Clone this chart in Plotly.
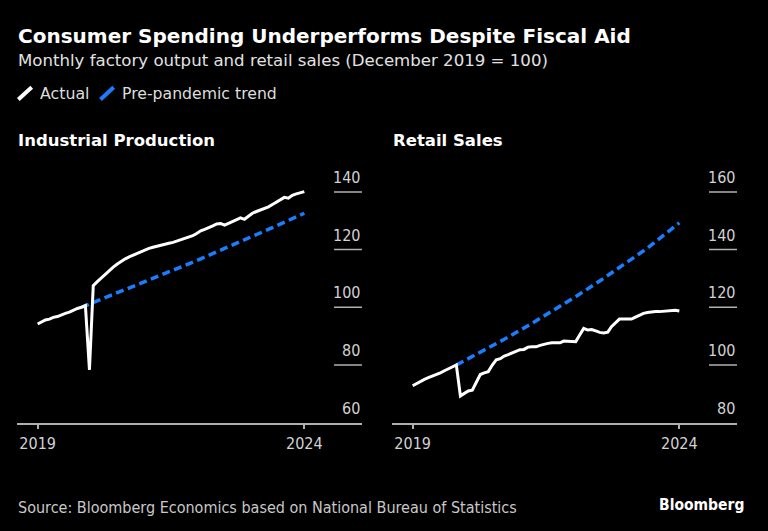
import plotly.graph_objects as go
import pandas as pd

# ---------------- data ----------------
months = pd.date_range("2019-01-01", periods=68, freq="MS")

ip_actual = [94.2, 94.8, 95.6, 95.9, 96.5, 96.8, 97.4, 97.9, 98.3, 99.0, 99.6, 100.0,
             100.6, 78.3, 107.5, 108.9, 110.2, 111.6, 112.8, 113.9, 115.0, 116.0, 116.8, 117.5,
             118.1, 118.8, 119.4, 119.9, 120.4, 120.8, 121.2, 121.5, 121.9, 122.2, 122.5, 123.0,
             123.5, 123.9, 124.4, 124.8, 125.6, 126.5, 127.0, 127.5, 128.2, 128.9, 129.0, 128.5,
             129.2, 129.8, 130.3, 131.0, 130.5, 131.6, 132.6, 133.2, 133.7, 134.2, 134.8, 135.6,
             136.5, 137.3, 138.1, 137.8, 138.8, 139.3, 139.7, 140.1]

retail_actual = [92.8, 93.6, 94.4, 95.0, 95.6, 96.1, 96.7, 97.3, 98.0, 98.7, 99.4, 100.0,
                 89.3, 90.3, 91.0, 91.3, 94.0, 96.7, 97.3, 97.7, 100.0, 101.8, 102.2, 103.1,
                 103.6, 104.2, 104.9, 105.3, 105.4, 106.2, 106.3, 106.3, 106.8, 107.2, 107.5, 107.7,
                 107.6, 107.7, 108.3, 108.2, 108.1, 108.1, 110.4, 112.7, 112.1, 112.3, 111.8, 111.3,
                 111.1, 111.4, 113.3, 114.8, 115.9, 115.9, 115.8, 115.9, 116.6, 117.3, 117.9, 118.2,
                 118.4, 118.5, 118.5, 118.6, 118.7, 118.9, 119.0, 118.7]

trend_dates = ["2019-12-01", "2020-06-01", "2020-12-01", "2021-06-01", "2021-12-01",
               "2022-06-01", "2022-12-01", "2023-06-01", "2023-12-01", "2024-08-01"]
ip_trend = [100.0, 103.3, 106.7, 110.0, 113.4, 116.8, 120.3, 123.9, 127.6, 132.6]
retail_trend = [100.0, 104.4, 108.9, 113.6, 118.6, 123.7, 129.1, 134.7, 140.5, 149.3]

ip_yticks = [60, 80, 100, 120, 140]
retail_yticks = [80, 100, 120, 140, 160]
x_ticktext = ["2019", "2024"]

# ---------------- style ----------------
W, H = 768, 531
BG = "#000000"
WHITE = "#ffffff"
BLUE = "#1a7dff"
AXIS = "#b0b0b0"
TICKC = "#d2d2d2"
FONT = "DejaVu Sans"
CFONT = "DejaVu Sans Condensed, DejaVu Sans"

def px(x):
    return x / W

def py(y):
    return 1 - y / H

x_range = ["2018-07-27", "2025-10-16"]
ydom = [py(422.7), py(168.8)]
dom_left = [px(17), px(362)]
dom_right = [px(392), px(737)]
ip_range = [60, 148]
retail_range = [80, 168]

fig = go.Figure()

for xa, ya, act, tr in [("x", "y", ip_actual, ip_trend), ("x2", "y2", retail_actual, retail_trend)]:
    fig.add_trace(go.Scatter(x=trend_dates, y=tr, mode="lines", xaxis=xa, yaxis=ya,
                             line=dict(color=BLUE, width=3.5, dash="8px,4.5px"),
                             showlegend=False, hoverinfo="skip"))
    fig.add_trace(go.Scatter(x=months, y=act, mode="lines", xaxis=xa, yaxis=ya,
                             line=dict(color=WHITE, width=3),
                             showlegend=False, hoverinfo="skip"))

xaxis_common = dict(range=x_range, showgrid=False, zeroline=False, showline=True,
                    linecolor=AXIS, linewidth=1.5, ticks="outside", ticklen=5,
                    tickwidth=1.5, tickcolor=AXIS,
                    tickvals=[months[0], months[-1]], ticktext=x_ticktext,
                    tickfont=dict(family=CFONT, size=16, color=TICKC),
                    fixedrange=True)
yaxis_common = dict(showgrid=False, zeroline=False, showline=False,
                    showticklabels=False, ticks="", fixedrange=True, domain=ydom)

fig.update_layout(
    width=W, height=H,
    margin=dict(l=0, r=0, t=0, b=0),
    paper_bgcolor=BG, plot_bgcolor=BG,
    showlegend=False,
    xaxis=dict(domain=dom_left, anchor="y", **xaxis_common),
    yaxis=dict(range=ip_range, anchor="x", **yaxis_common),
    xaxis2=dict(domain=dom_right, anchor="y2", **xaxis_common),
    yaxis2=dict(range=retail_range, anchor="x2", **yaxis_common),
)

shapes = []
annotations = []

# short right-side gridlines + labels
for xr, yr, ticks, rng in [("x domain", "y", ip_yticks, ip_range),
                           ("x2 domain", "y2", retail_yticks, retail_range)]:
    for v in ticks:
        if v != rng[0]:
            shapes.append(dict(type="line", xref=xr, yref=yr, x0=1 - 28 / 345, x1=1, y0=v, y1=v,
                               line=dict(color=AXIS, width=1.5), layer="below"))
        annotations.append(dict(xref=xr, yref=yr, x=1, y=v, xanchor="right", yanchor="bottom",
                                yshift=3, text=str(v), showarrow=False,
                                font=dict(family=CFONT, size=16, color=TICKC)))

# titles
annotations += [
    dict(xref="paper", yref="paper", x=px(15.5), y=py(36.3), xanchor="left", yanchor="middle",
         text="<b>Consumer Spending Underperforms Despite Fiscal Aid</b>", showarrow=False,
         font=dict(family=FONT, size=20, color=WHITE)),
    dict(xref="paper", yref="paper", x=px(15.5), y=py(61), xanchor="left", yanchor="middle",
         text="Monthly factory output and retail sales (December 2019 = 100)", showarrow=False,
         font=dict(family=FONT, size=16.6, color="#e2e2e2")),
    dict(xref="paper", yref="paper", x=px(37.5), y=py(94), xanchor="left", yanchor="middle",
         text="Actual", showarrow=False, font=dict(family=FONT, size=15.8, color="#dddddd")),
    dict(xref="paper", yref="paper", x=px(119.5), y=py(94), xanchor="left", yanchor="middle",
         text="Pre-pandemic trend", showarrow=False, font=dict(family=FONT, size=15.7, color="#dddddd")),
    dict(xref="paper", yref="paper", x=px(15.5), y=py(140.5), xanchor="left", yanchor="middle",
         text="<b>Industrial Production</b>", showarrow=False,
         font=dict(family=FONT, size=16.5, color=WHITE)),
    dict(xref="paper", yref="paper", x=px(390.5), y=py(140.5), xanchor="left", yanchor="middle",
         text="<b>Retail Sales</b>", showarrow=False,
         font=dict(family=FONT, size=16.5, color=WHITE)),
    dict(xref="paper", yref="paper", x=px(15.5), y=py(507), xanchor="left", yanchor="middle",
         text="Source: Bloomberg Economics based on National Bureau of Statistics", showarrow=False,
         font=dict(family=CFONT, size=16, color="#c8c8c8")),
    dict(xref="paper", yref="paper", x=px(746), y=py(505), xanchor="right", yanchor="middle",
         text="<b>Bloomberg</b>", showarrow=False,
         font=dict(family=CFONT, size=15.5, color=WHITE)),
]

# legend icons
shapes += [
    dict(type="line", xref="paper", yref="paper", x0=px(18.3), y0=py(99.5), x1=px(31.7), y1=py(87.3),
         line=dict(color=WHITE, width=4)),
    dict(type="line", xref="paper", yref="paper", x0=px(100.5), y0=py(99.5), x1=px(113.7), y1=py(87.3),
         line=dict(color=BLUE, width=4)),
]

fig.update_layout(shapes=shapes, annotations=annotations)
fig.write_html("out.html", config={"displayModeBar": False},
               post_script="document.body.style.margin='0';document.body.style.background='#000';")
